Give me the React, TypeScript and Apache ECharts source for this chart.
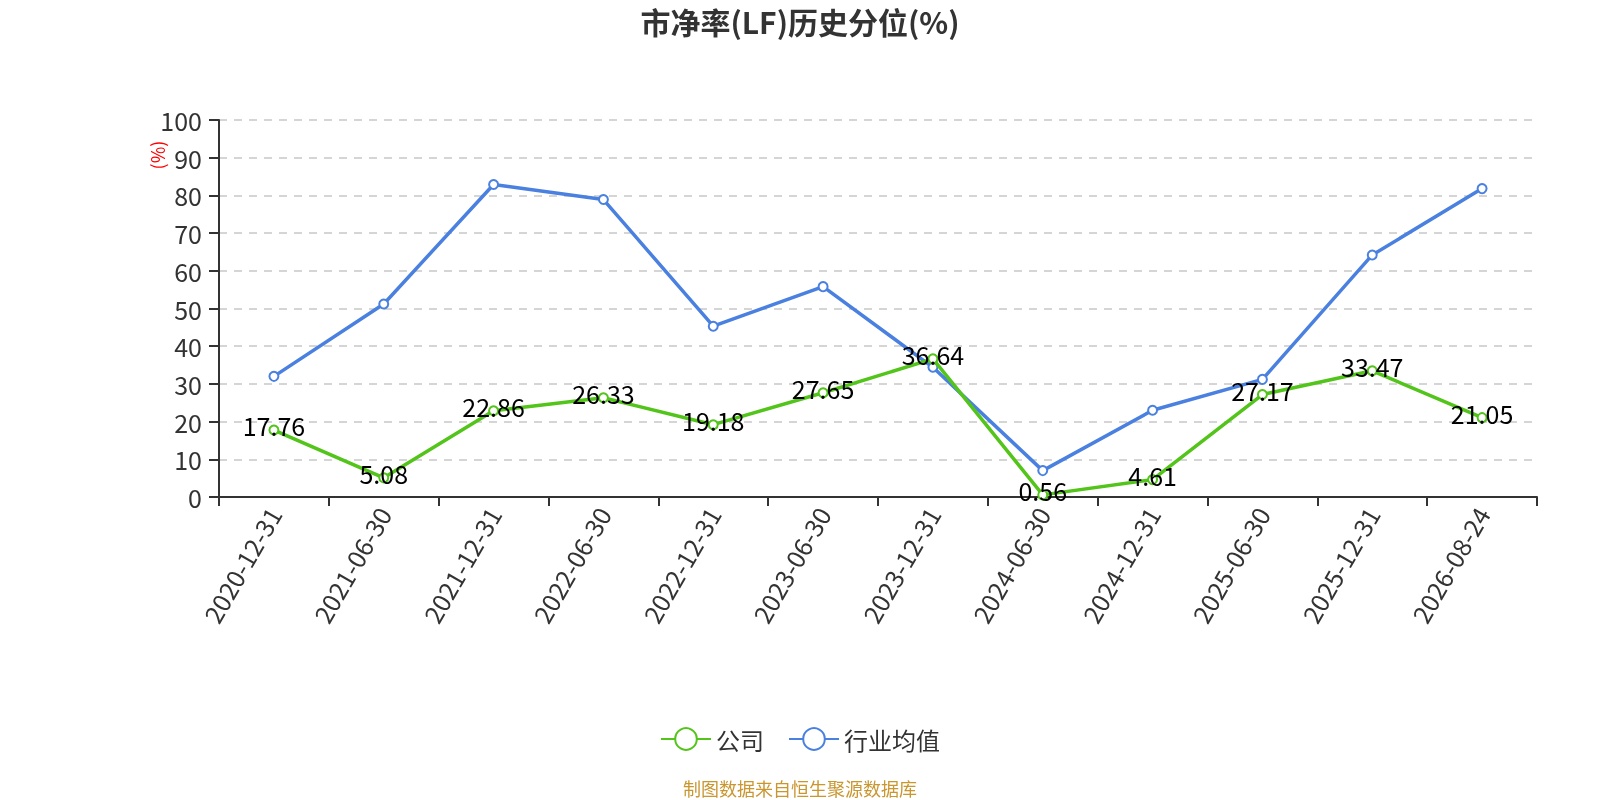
import React, { useEffect, useRef } from "react";
import * as echarts from "echarts";

const categories = [
  "2020-12-31", "2021-06-30", "2021-12-31", "2022-06-30", "2022-12-31", "2023-06-30",
  "2023-12-31", "2024-06-30", "2024-12-31", "2025-06-30", "2025-12-31", "2026-08-24",
];
const companyValues = [17.76, 5.08, 22.86, 26.33, 19.18, 27.65, 36.64, 0.56, 4.61, 27.17, 33.47, 21.05];
const industryValues = [32.0, 51.2, 82.9, 78.9, 45.3, 55.8, 34.4, 7.0, 23.0, 31.2, 64.2, 81.8];
const yTicks = { min: 0, max: 100, interval: 10 };

const FONT = "'Noto Sans CJK SC', 'Noto Sans', sans-serif";

export default function App() {
  const ref = useRef<HTMLDivElement>(null);
  useEffect(() => {
    document.body.style.margin = "0";
    document.body.style.overflow = "hidden";
    const chart = echarts.init(ref.current!, undefined, { renderer: "svg" });
    chart.setOption({
      animation: false,
      textStyle: { fontFamily: FONT },
      title: {
        text: "市净率(LF)历史分位(%)",
        left: "center",
        top: 1,
        textStyle: { fontSize: 30, fontWeight: "bold", color: "#333", fontFamily: FONT },
      },
      legend: {
        left: "center",
        top: 722,
        itemWidth: 50,
        itemHeight: 27,
        itemGap: 24,
        textStyle: { fontSize: 24, color: "#333", fontFamily: FONT },
        data: ["公司", "行业均值"],
      },
      graphic: [
        {
          type: "text",
          x: 157,
          y: 155,
          rotation: Math.PI / 2,
          style: {
            text: "(%)",
            fill: "#ff0000",
            fontSize: 18,
            fontFamily: FONT,
            textAlign: "center",
            textVerticalAlign: "middle",
          },
        },
        {
          type: "text",
          x: 800,
          y: 788,
          style: {
            text: "制图数据来自恒生聚源数据库",
            fill: "#c9962f",
            fontSize: 18,
            fontFamily: FONT,
            textAlign: "center",
            textVerticalAlign: "middle",
          },
        },
      ],
      grid: { left: 219, right: 63, top: 120, bottom: 303, containLabel: false },
      xAxis: {
        type: "category",
        data: categories,
        boundaryGap: true,
        axisLine: { lineStyle: { color: "#333", width: 2 } },
        axisTick: { show: true, length: 9, lineStyle: { color: "#333", width: 2 } },
        axisLabel: { rotate: 60, fontSize: 25, color: "#333", margin: 12, interval: 0, fontFamily: FONT },
      },
      yAxis: {
        type: "value",
        min: yTicks.min,
        max: yTicks.max,
        interval: yTicks.interval,
        axisLine: { show: true, lineStyle: { color: "#333", width: 2 } },
        axisTick: { show: true, length: 10, lineStyle: { color: "#333", width: 2 } },
        axisLabel: { fontSize: 25, color: "#333", margin: 17, fontFamily: FONT },
        splitLine: { show: true, lineStyle: { type: [8, 7], color: "#c8c8c8", width: 1.5 } },
      },
      series: [
        {
          name: "公司",
          type: "line",
          data: companyValues,
          symbol: "emptyCircle",
          symbolSize: 9,
          itemStyle: { color: "#52c41a", borderWidth: 2 },
          lineStyle: { width: 3.5, color: "#52c41a" },
          label: { show: true, position: "inside", offset: [0, -5], fontSize: 25, color: "#000", fontFamily: FONT },
          z: 3,
        },
        {
          name: "行业均值",
          type: "line",
          data: industryValues,
          symbol: "emptyCircle",
          symbolSize: 9,
          itemStyle: { color: "#4a80e0", borderWidth: 2 },
          lineStyle: { width: 3.5, color: "#4a80e0" },
          z: 2,
        },
      ],
    });
    return () => chart.dispose();
  }, []);
  return <div ref={ref} style={{ position: "fixed", left: 0, top: 0, width: 1600, height: 800 }} />;
}
